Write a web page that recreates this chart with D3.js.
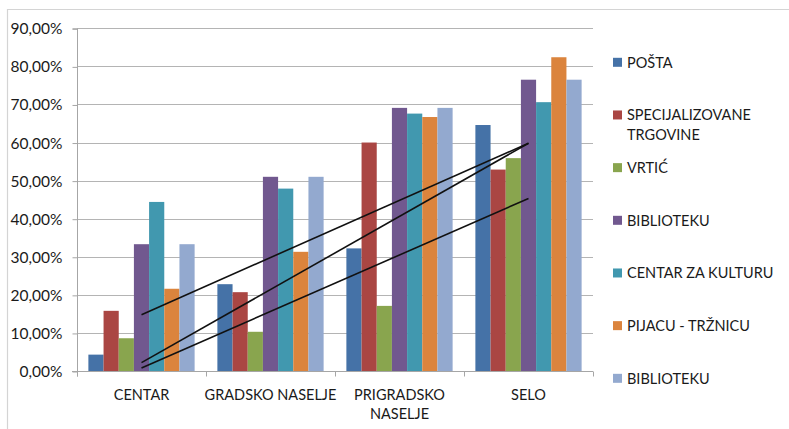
<!DOCTYPE html>
<html>
<head>
<meta charset="utf-8">
<script src="https://cdn.jsdelivr.net/npm/d3@7"></script>
<style>
  html, body { margin: 0; padding: 0; background: #fff; }
  svg { display: block; }
  text { font-family: Lato, "Open Sans", sans-serif; fill: #1a1a1a; }
</style>
</head>
<body>
<svg id="chart" width="789" height="429"></svg>
<script>
// ---- data ----
const categories = ["CENTAR", "GRADSKO NASELJE", "PRIGRADSKO NASELJE", "SELO"];
const seriesNames = ["POŠTA", "SPECIJALIZOVANE TRGOVINE", "VRTIĆ", "BIBLIOTEKU", "CENTAR ZA KULTURU", "PIJACU - TRŽNICU", "BIBLIOTEKU"];
const posta           = [4.3, 22.8, 32.2, 64.6];
const specijalizovane = [15.8, 20.7, 60.0, 52.9];
const vrtic           = [8.6, 10.3, 17.1, 55.9];
const biblioteku      = [33.3, 51.0, 69.1, 76.5];
const centarZaKulturu = [44.4, 47.9, 67.6, 70.6];
const pijacu          = [21.6, 31.3, 66.7, 82.4];
const biblioteku2     = [33.3, 51.0, 69.1, 76.5];
// hand-drawn lines from CENTAR to SELO (percent)
const lineStart = [14.8, 2.2, 0.8];
const lineEnd   = [59.8, 59.8, 45.3];
const yTicks = [0, 10, 20, 30, 40, 50, 60, 70, 80, 90];
const colors = ["#4572A7", "#AA4643", "#89A54E", "#71588F", "#4198AF", "#DB843D", "#93A9CF"];

const seriesValues = [posta, specijalizovane, vrtic, biblioteku, centarZaKulturu, pijacu, biblioteku2];
const seriesKeys = seriesNames.map((d, i) => i);

const svg = d3.select("#chart");

// outer frame (top + left edges)
svg.append("line").attr("x1", 7).attr("x2", 789).attr("y1", 9.5).attr("y2", 9.5)
  .attr("stroke", "#d4d4d4").attr("stroke-width", 1.2);
svg.append("line").attr("x1", 7.5).attr("x2", 7.5).attr("y1", 9).attr("y2", 429)
  .attr("stroke", "#d4d4d4").attr("stroke-width", 1.2);

const plot = { left: 77, right: 593, top: 28.3, bottom: 371 };

const x0 = d3.scaleBand().domain(categories).range([plot.left, plot.right]).paddingInner(0).paddingOuter(0);
const x1 = d3.scaleBand().domain(seriesKeys).range([0, x0.bandwidth()]).paddingInner(0).paddingOuter(0.75);
const y = d3.scaleLinear().domain([0, 90]).range([plot.bottom, plot.top]);

// gridlines
svg.append("g").selectAll("line").data(yTicks.filter(t => t > 0)).join("line")
  .attr("x1", plot.left).attr("x2", plot.right)
  .attr("y1", d => Math.round(y(d)) + 0.5).attr("y2", d => Math.round(y(d)) + 0.5)
  .attr("stroke", "#b4b4b4").attr("stroke-width", 1);

// y axis
const yAxis = d3.axisLeft(y).tickValues(yTicks).tickSize(5).tickPadding(10)
  .tickFormat(d => d3.format(".2f")(d).replace(".", ",") + "%");
const gy = svg.append("g").attr("transform", `translate(${plot.left + 0.5},0.5)`).call(yAxis);
gy.select(".domain").attr("stroke", "#a6a6a6").attr("d", `M-5,${y(90)}H0V${plot.bottom + 5}`);
gy.selectAll(".tick line").attr("stroke", "#a6a6a6");
gy.selectAll(".tick text").attr("font-size", 15.5).attr("fill", "#1a1a1a")
  .style("font-family", "Lato, 'Open Sans', sans-serif");

// bars
const groups = svg.append("g").selectAll("g").data(categories).join("g")
  .attr("transform", d => `translate(${x0(d)},0)`);
groups.selectAll("rect").data((c, ci) => seriesKeys.map(k => ({ k, v: seriesValues[k][ci] }))).join("rect")
  .attr("x", d => x1(d.k))
  .attr("width", x1.bandwidth())
  .attr("y", d => y(d.v))
  .attr("height", d => y(0) - y(d.v))
  .attr("fill", d => colors[d.k]);

// x axis
const xAxisG = svg.append("g").attr("transform", `translate(0,${plot.bottom + 0.5})`);
xAxisG.append("line").attr("x1", plot.left - 5).attr("x2", plot.right).attr("y1", 0).attr("y2", 0)
  .attr("stroke", "#a6a6a6");
const bounds = categories.map(c => x0(c)).concat([plot.right]);
xAxisG.selectAll("line.tk").data(bounds).join("line").attr("class", "tk")
  .attr("x1", d => Math.round(d) + 0.5).attr("x2", d => Math.round(d) + 0.5)
  .attr("y1", 0).attr("y2", 5).attr("stroke", "#a6a6a6");

const labels = xAxisG.selectAll("text.xl").data(categories).join("text").attr("class", "xl")
  .attr("x", d => x0(d) + x0.bandwidth() / 2)
  .attr("y", 28)
  .attr("text-anchor", "middle")
  .attr("font-size", 14.5);
labels.each(function(d) {
  const t = d3.select(this);
  t.text(d);
  if (this.getComputedTextLength() > x0.bandwidth() + 20) {
    const words = d.split(" ");
    t.text(null);
    words.forEach((w, i) => {
      t.append("tspan").attr("x", x0(d) + x0.bandwidth() / 2).attr("dy", i === 0 ? 0 : 19.5).text(w);
    });
  }
});

// lines
const cx = c => x0(c) + x0.bandwidth() / 2;
svg.append("g").selectAll("line").data(lineStart.map((s, i) => ({ s, e: lineEnd[i] }))).join("line")
  .attr("x1", cx(categories[0])).attr("x2", cx(categories[categories.length - 1]))
  .attr("y1", d => y(d.s)).attr("y2", d => y(d.e))
  .attr("stroke", "#111").attr("stroke-width", 1.6);

// legend
const legendTop = 62.3, legendStep = 52.67;
const lg = svg.append("g").selectAll("g").data(seriesKeys).join("g")
  .attr("transform", (d, i) => `translate(613,${legendTop + i * legendStep})`);
lg.append("rect").attr("x", 0).attr("y", -4.5).attr("width", 9).attr("height", 9)
  .attr("fill", d => colors[d]);
lg.each(function(d) {
  const g = d3.select(this);
  const name = seriesNames[d];
  const parts = name === "SPECIJALIZOVANE TRGOVINE" ? name.split(" ") : [name];
  const t = g.append("text").attr("x", 14).attr("y", 5.5).attr("font-size", 14.5);
  parts.forEach((p, i) => t.append("tspan").attr("x", 14).attr("dy", i === 0 ? 0 : 20).text(p));
});
</script>
</body>
</html>
